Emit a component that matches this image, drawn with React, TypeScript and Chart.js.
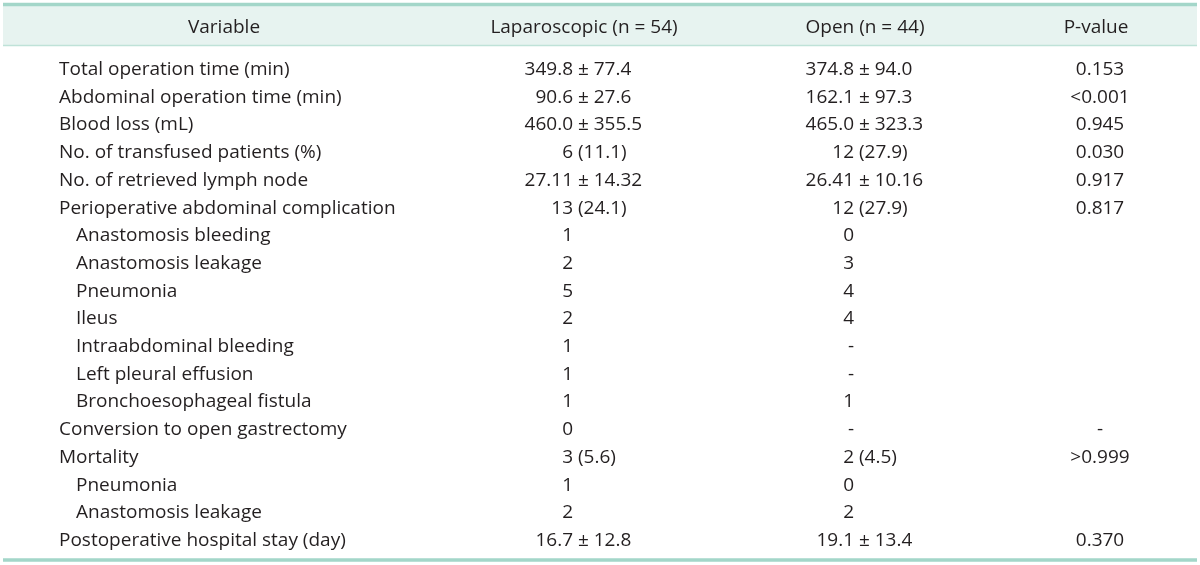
import React, { useEffect, useRef } from "react";
import { Chart, registerables } from "chart.js";

Chart.register(...registerables);

// ---------- data ----------
const headers = ["Variable", "Laparoscopic (n = 54)", "Open (n = 44)", "P-value"];

const variables = [
  "Total operation time (min)",
  "Abdominal operation time (min)",
  "Blood loss (mL)",
  "No. of transfused patients (%)",
  "No. of retrieved lymph node",
  "Perioperative abdominal complication",
  "Anastomosis bleeding",
  "Anastomosis leakage",
  "Pneumonia",
  "Ileus",
  "Intraabdominal bleeding",
  "Left pleural effusion",
  "Bronchoesophageal fistula",
  "Conversion to open gastrectomy",
  "Mortality",
  "Pneumonia",
  "Anastomosis leakage",
  "Postoperative hospital stay (day)",
];

// rows that are sub-items of the row above them
const subItemRows = [6, 7, 8, 9, 10, 11, 12, 15, 16];

const laparoscopic = [
  "349.8 ± 77.4",
  "90.6 ± 27.6",
  "460.0 ± 355.5",
  "6 (11.1)",
  "27.11 ± 14.32",
  "13 (24.1)",
  "1",
  "2",
  "5",
  "2",
  "1",
  "1",
  "1",
  "0",
  "3 (5.6)",
  "1",
  "2",
  "16.7 ± 12.8",
];

const openSurgery = [
  "374.8 ± 94.0",
  "162.1 ± 97.3",
  "465.0 ± 323.3",
  "12 (27.9)",
  "26.41 ± 10.16",
  "12 (27.9)",
  "0",
  "3",
  "4",
  "4",
  "-",
  "-",
  "1",
  "-",
  "2 (4.5)",
  "0",
  "2",
  "19.1 ± 13.4",
];

const pValues = [
  "0.153",
  "<0.001",
  "0.945",
  "0.030",
  "0.917",
  "0.817",
  "",
  "",
  "",
  "",
  "",
  "",
  "",
  "-",
  ">0.999",
  "",
  "",
  "0.370",
];

// ---------- layout / style ----------
const W = 1200;
const H = 565;
const FONT_FAMILY = '"Open Sans", "Noto Sans", "DejaVu Sans", sans-serif';
const FONT_SIZE = 19;
const TEXT_COLOR = "#231f20";
const RULE_COLOR = "#a3d6c9";
const HEADER_FILL = "#e7f3f0";
const HEADER_RULE = "#bfe2d8";

// column anchors on the x scale (0..W)
const X_VAR_LEFT = 59;
const X_SUB_LEFT = 76;
const X_VAR_HEAD = 224;
const X_LAP_SPLIT = 573;
const X_LAP_HEAD = 584;
const X_OPEN_SPLIT = 854;
const X_OPEN_HEAD = 865;
const X_P_CENTER = 1100;
const X_P_HEAD = 1096;

// y scale in row units (baseline of row i at value i)
const ROW_PX = 27.706;
const FIRST_BASELINE = 75;
const Y_MIN = -FIRST_BASELINE / ROW_PX;
const Y_MAX = Y_MIN + H / ROW_PX;
const toRow = (px: number) => (px - FIRST_BASELINE) / ROW_PX;
const HEADER_ROW = toRow(33);
const BAND_TOP = toRow(6);
const BAND_BOTTOM = toRow(46);
const TOP_RULE = toRow(4.5);
const HEADER_RULE_Y = toRow(45.6);
const BOTTOM_RULE = toRow(560);

type Cell = { x: number; y: number; text: string };

function cells(values: string[], anchor: number | ((i: number) => number)): Cell[] {
  const out: Cell[] = [];
  values.forEach((t, i) => {
    if (t === "") return;
    const x = typeof anchor === "number" ? anchor : anchor(i);
    out.push({ x, y: i, text: t });
  });
  return out;
}

const tablePlugin = {
  id: "tableText",
  beforeDatasetsDraw(chart: any) {
    const { ctx, scales } = chart;
    const x0 = scales.x.getPixelForValue(3);
    const x1 = scales.x.getPixelForValue(1197);
    const bt = scales.y.getPixelForValue(BAND_TOP);
    const bb = scales.y.getPixelForValue(BAND_BOTTOM);
    ctx.save();
    ctx.fillStyle = HEADER_FILL;
    ctx.fillRect(x0, bt, x1 - x0, bb - bt);
    ctx.strokeStyle = HEADER_RULE;
    ctx.lineWidth = 1.5;
    ctx.beginPath();
    const hy = scales.y.getPixelForValue(HEADER_RULE_Y);
    ctx.moveTo(x0, hy);
    ctx.lineTo(x1, hy);
    ctx.stroke();
    ctx.strokeStyle = RULE_COLOR;
    ctx.lineWidth = 3.5;
    ctx.beginPath();
    const ty = scales.y.getPixelForValue(TOP_RULE);
    ctx.moveTo(x0, ty);
    ctx.lineTo(x1, ty);
    const by = scales.y.getPixelForValue(BOTTOM_RULE);
    ctx.moveTo(x0, by);
    ctx.lineTo(x1, by);
    ctx.stroke();
    ctx.restore();
  },
  afterDatasetsDraw(chart: any) {
    const { ctx } = chart;
    ctx.save();
    ctx.font = `${FONT_SIZE}px ${FONT_FAMILY}`;
    ctx.fillStyle = TEXT_COLOR;
    ctx.textBaseline = "alphabetic";
    const spaceW = ctx.measureText(" ").width;
    chart.data.datasets.forEach((ds: any, di: number) => {
      const meta = chart.getDatasetMeta(di);
      meta.data.forEach((el: any, i: number) => {
        const text: string = ds.data[i].text;
        const px = el.x;
        const py = el.y;
        if (ds.cellAlign === "split") {
          const k = text.indexOf(" ");
          const head = k < 0 ? text : text.slice(0, k);
          const tail = k < 0 ? "" : text.slice(k + 1);
          ctx.textAlign = "right";
          ctx.fillText(head, px, py);
          if (tail) {
            ctx.textAlign = "left";
            ctx.fillText(tail, px + spaceW, py);
          }
        } else {
          ctx.textAlign = ds.cellAlign;
          ctx.fillText(text, px, py);
        }
      });
    });
    ctx.restore();
  },
};

export default function App() {
  const ref = useRef<HTMLCanvasElement | null>(null);

  useEffect(() => {
    if (!ref.current) return;
    const mk = (data: Cell[], cellAlign: string) => ({
      data,
      cellAlign,
      pointRadius: 0,
      pointHoverRadius: 0,
      showLine: false,
    });
    const chart = new Chart(ref.current, {
      type: "scatter",
      data: {
        datasets: [
          mk(
            headers.map((h, i) => ({
              x: [X_VAR_HEAD, X_LAP_HEAD, X_OPEN_HEAD, X_P_HEAD][i],
              y: HEADER_ROW,
              text: h,
            })),
            "center"
          ),
          mk(
            cells(variables, (i) => (subItemRows.includes(i) ? X_SUB_LEFT : X_VAR_LEFT)),
            "left"
          ),
          mk(cells(laparoscopic, X_LAP_SPLIT), "split"),
          mk(cells(openSurgery, X_OPEN_SPLIT), "split"),
          mk(cells(pValues, X_P_CENTER), "center"),
        ] as any,
      },
      options: {
        animation: false,
        responsive: false,
        maintainAspectRatio: false,
        layout: { padding: 0 },
        plugins: { legend: { display: false }, tooltip: { enabled: false } },
        events: [],
        scales: {
          x: { type: "linear", min: 0, max: W, display: false },
          y: { type: "linear", min: Y_MIN, max: Y_MAX, reverse: true, display: false },
        },
      },
      plugins: [tablePlugin],
    });
    return () => chart.destroy();
  }, []);

  return (
    <div style={{ position: "absolute", left: 0, top: 0, width: W, height: H, background: "#fff" }}>
      <canvas ref={ref} width={W} height={H} style={{ width: W, height: H, display: "block" }} />
    </div>
  );
}
